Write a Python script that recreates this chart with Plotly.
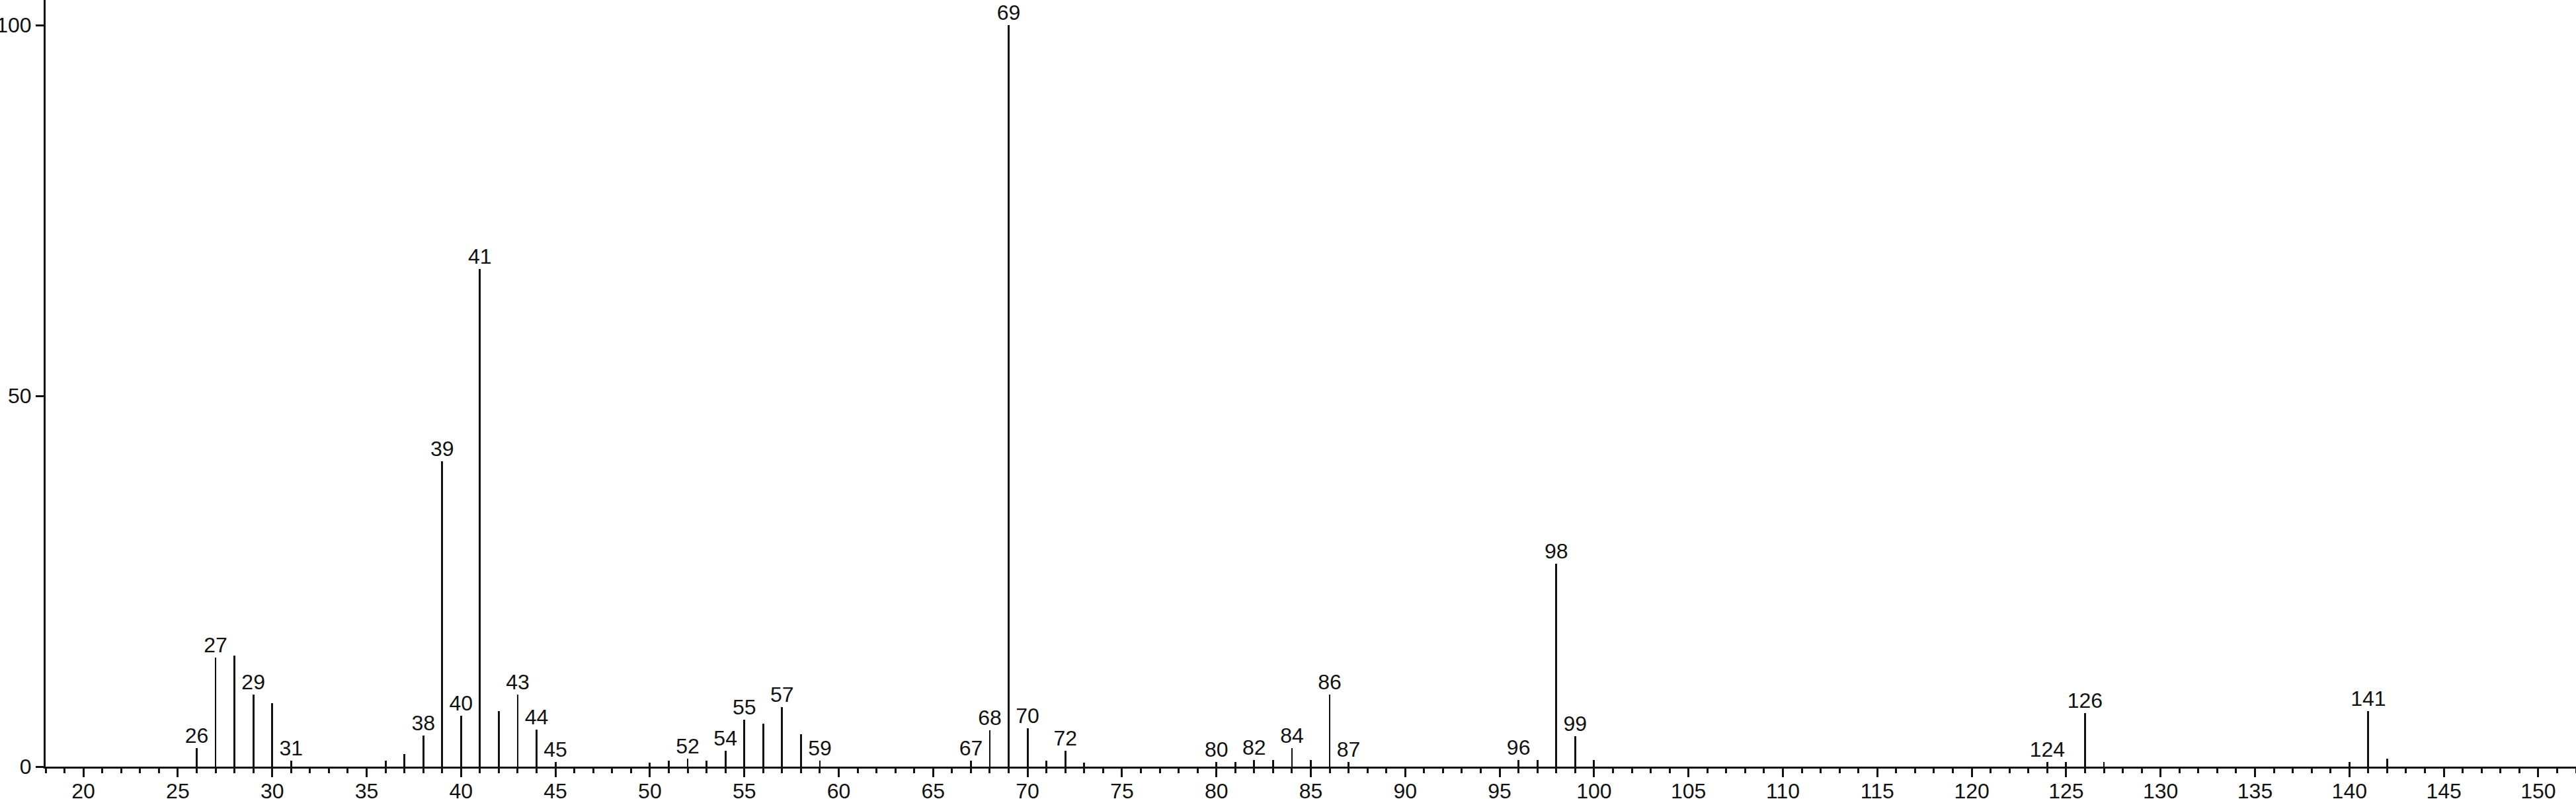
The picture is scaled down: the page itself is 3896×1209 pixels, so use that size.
import plotly.graph_objects as go

# m/z values and relative intensities (%)
mz = [26, 27, 28, 29, 30, 31, 36, 37, 38, 39, 40, 41, 42, 43, 44, 45,
      50, 51, 52, 53, 54, 55, 56, 57, 58, 59,
      67, 68, 69, 70, 71, 72, 73,
      80, 81, 82, 83, 84, 85, 86, 87,
      96, 97, 98, 99, 100,
      124, 125, 126, 127, 140, 141, 142]
intensity = [2.5, 14.7, 15.0, 9.7, 8.6, 0.8, 0.8, 1.7, 4.2, 41.2, 6.9, 67.1, 7.5, 9.7, 5.0, 0.6,
             0.5, 0.8, 1.1, 0.8, 2.1, 6.3, 5.8, 8.0, 4.4, 0.8,
             0.8, 4.9, 100.0, 5.2, 0.8, 2.1, 0.5,
             0.6, 0.6, 0.9, 0.9, 2.5, 0.9, 9.7, 0.6,
             0.9, 0.9, 27.4, 4.1, 0.9,
             0.6, 0.6, 7.2, 0.6, 0.6, 7.5, 1.1]

labeled_mz = [26, 27, 29, 31, 38, 39, 40, 41, 43, 44, 45, 52, 54, 55, 57, 59,
              67, 68, 69, 70, 72, 80, 82, 84, 86, 87, 96, 98, 99, 124, 126, 141]

x_ticks = list(range(20, 151, 5))
y_ticks = [0, 50, 100]

lookup = dict(zip(mz, intensity))
label_y = [lookup[m] for m in labeled_mz]

FONT = "Liberation Sans, Arial, sans-serif"

fig = go.Figure()
fig.add_trace(go.Bar(
    x=mz, y=intensity, width=0.1,
    marker=dict(color="#111111", line=dict(width=0)),
    showlegend=False, hoverinfo="x+y",
))
fig.add_trace(go.Scatter(
    x=labeled_mz, y=label_y, mode="text",
    text=[str(m) for m in labeled_mz],
    textposition="top center",
    textfont=dict(family=FONT, size=32, color="#111111"),
    showlegend=False, hoverinfo="skip",
))

fig.update_layout(
    width=3896, height=1209,
    margin=dict(l=69, r=0, t=0, b=49, pad=0),
    paper_bgcolor="white", plot_bgcolor="white",
    font=dict(family=FONT, size=32, color="#111111"),
    bargap=0,
)
fig.update_xaxes(
    range=[18.0, 152.0],
    tickvals=x_ticks, ticktext=[str(v) for v in x_ticks],
    ticks="outside", ticklen=13, tickwidth=3, tickcolor="#111111",
    minor=dict(dtick=1, tick0=0, ticks="outside", ticklen=7, tickwidth=3, tickcolor="#111111"),
    showline=True, linewidth=3, linecolor="#111111",
    showgrid=False, zeroline=False, automargin=False,
    ticklabelstandoff=-6,
    tickfont=dict(family=FONT, size=32, color="#111111"),
)
fig.update_yaxes(
    range=[0, 103.4],
    tickvals=y_ticks, ticktext=[str(v) for v in y_ticks],
    ticks="outside", ticklen=12, tickwidth=3, tickcolor="#111111",
    showline=True, linewidth=3, linecolor="#111111",
    showgrid=False, zeroline=False, automargin=False,
    tickfont=dict(family=FONT, size=32, color="#111111"),
)

fig.write_html("out.html",
               config={"displayModeBar": False},
               post_script="document.body.style.margin='0';document.body.style.overflow='hidden';")
